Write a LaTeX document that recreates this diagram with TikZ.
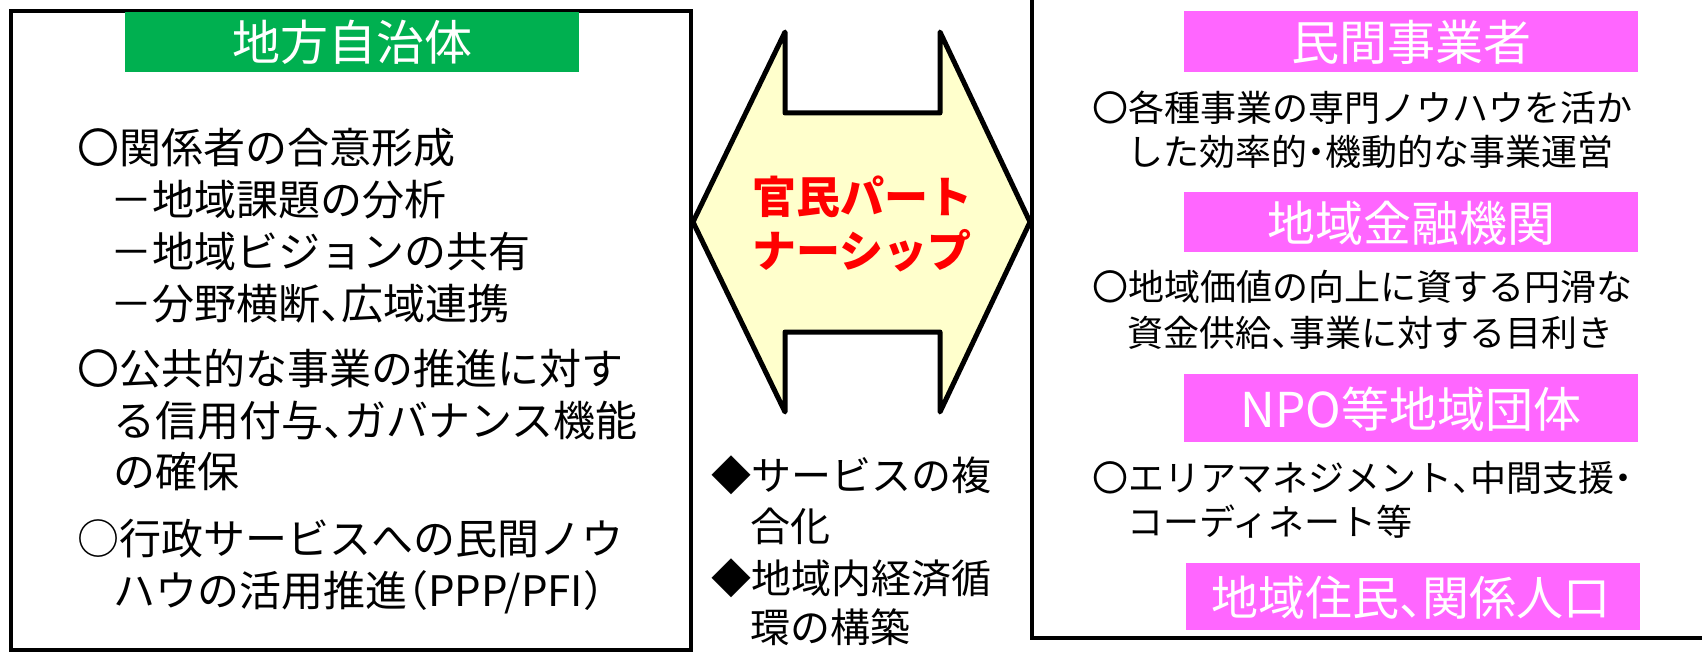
\documentclass[tikz,border=0pt]{standalone}
\usepackage{fontspec}
\setmainfont{Noto Sans CJK JP}
\newfontfamily\halffont[RawFeature=+halt]{Noto Sans CJK JP}
\newcommand{\hp}[1]{{\halffont #1}}
\definecolor{hgreen}{HTML}{00B050}
\definecolor{hmag}{HTML}{FF66FF}
\definecolor{ayellow}{HTML}{FFFFCC}
\definecolor{pred}{HTML}{FF0000}
\begin{document}
\begin{tikzpicture}[x=0.5pt,y=-0.5pt,
  lefttxt/.style={inner sep=0pt, anchor=west, font=\fontsize{21pt}{25pt}\selectfont, text height=18.48pt, text depth=2.52pt},
  righttxt/.style={inner sep=0pt, anchor=west, font=\fontsize{18pt}{22pt}\selectfont, text height=15.84pt, text depth=2.16pt},
  midtxt/.style={inner sep=0pt, anchor=west, font=\fontsize{20pt}{24pt}\selectfont, text height=17.6pt, text depth=2.4pt},
  headtxt/.style={inner sep=0pt, text=white, font=\fontsize{24pt}{28pt}\selectfont, text height=21.12pt, text depth=2.88pt},
  redtxt/.style={inner sep=0pt, text=pred, font=\fontsize{22pt}{26pt}\selectfont\bfseries, text height=19.36pt, text depth=2.64pt},
  frame/.style={draw=black, line width=2.2pt},
  dblarrow/.style={draw=black, fill=ayellow, line width=2.5pt, line join=round}
]
\useasboundingbox (0,0) rectangle (1702,652);
\fill[white] (0,0) rectangle (1702,652);

% left box
\draw[frame] (11,11) rectangle (691,650);
\fill[hgreen] (125,12) rectangle (579,72);
\node[headtxt] (lh) at (352,42) {地方自治体};

\node[lefttxt] (l1) at (77,148) {〇関係者の合意形成};
\node[lefttxt] (l2) at (110,200) {－地域課題の分析};
\node[lefttxt] (l3) at (110,252) {－地域ビジョンの共有};
\node[lefttxt] (l4) at (110,304) {－分野横断\hp{、}広域連携};
\node[lefttxt] (l5) at (77,369) {〇公共的な事業の推進に対す};
\node[lefttxt] (l6) at (113,421) {る信用付与\hp{、}ガバナンス機能};
\node[lefttxt] (l7) at (113,472) {の確保};
\node[lefttxt] (l8) at (77,539) {○行政サービスへの民間ノウ};
\node[lefttxt] (l9) at (113,591) {ハウの活用推進\hp{（}PPP/PFI\hp{）}};

% right box
\draw[frame] (1032,-5) -- (1032,638) -- (1710,638);
\fill[hmag] (1184,11) rectangle (1638,72);
\node[headtxt] (rh1) at (1411,42) {民間事業者};
\node[righttxt] (r1) at (1092,108) {〇各種事業の専門ノウハウを活か};
\node[righttxt] (r2) at (1127,152) {した効率的\hp{・}機動的な事業運営};
\fill[hmag] (1184,192) rectangle (1638,252);
\node[headtxt] (rh2) at (1411,223) {地域金融機関};
\node[righttxt] (r3) at (1092,287) {〇地域価値の向上に資する円滑な};
\node[righttxt] (r4) at (1127,333) {資金供給\hp{、}事業に対する目利き};
\fill[hmag] (1184,374) rectangle (1638,442);
\node[headtxt] (rh3) at (1411,409) {NPO等地域団体};
\node[righttxt] (r5) at (1092,478) {〇エリアマネジメント\hp{、}中間支援\hp{・}};
\node[righttxt] (r6) at (1127,522) {コーディネート等};
\fill[hmag] (1186,563) rectangle (1640,630);
\node[headtxt, font=\fontsize{23.5pt}{28pt}\selectfont, text height=20.7pt, text depth=2.8pt] (rh4) at (1411,598) {地域住民\hp{、}関係人口};

% centre double arrow
\draw[dblarrow] (693,222) -- (785,32) -- (785,113) -- (940,113) -- (940,32)
  -- (1030,222) -- (940,412) -- (940,332) -- (785,332) -- (785,412) -- cycle;
\node[redtxt] (p1) at (862,197) {官民パート};
\node[redtxt] (p2) at (862,251) {ナーシップ};

% centre bottom text
\node[midtxt] (m1) at (711,475) {◆サービスの複};
\node[midtxt] (m2) at (750,526) {合化};
\node[midtxt] (m3) at (711,578) {◆地域内経済循};
\node[midtxt] (m4) at (750,627) {環の構築};
\end{tikzpicture}
\end{document}
